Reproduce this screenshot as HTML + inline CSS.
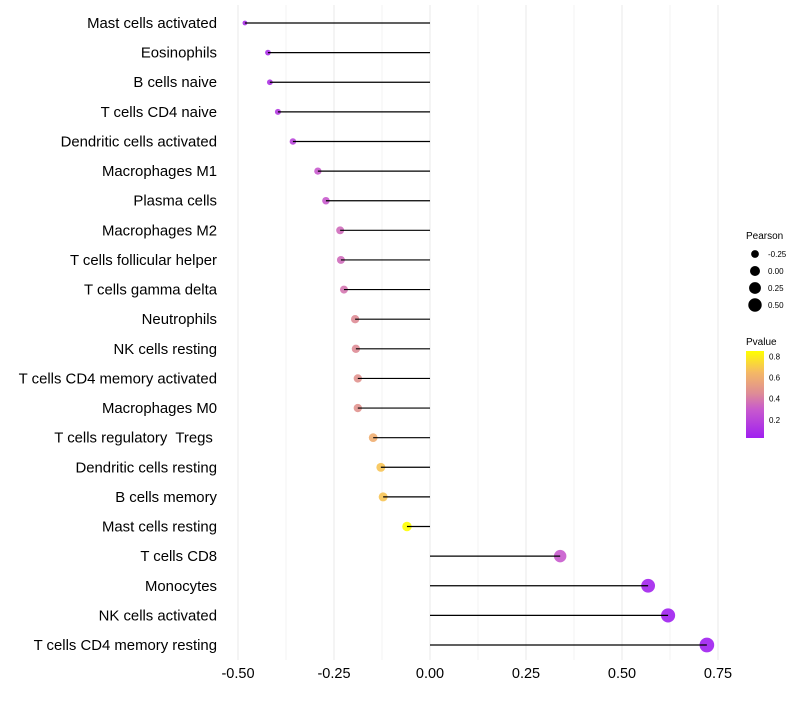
<!DOCTYPE html>
<html><head><meta charset="utf-8"><style>
body{margin:0;background:#fff;font-family:"Liberation Sans",sans-serif}
</style></head><body>
<svg id="c" width="800" height="700" xmlns="http://www.w3.org/2000/svg"></svg>
<script>
const categories=["Mast cells activated","Eosinophils","B cells naive","T cells CD4 naive","Dendritic cells activated","Macrophages M1","Plasma cells","Macrophages M2","T cells follicular helper","T cells gamma delta","Neutrophils","NK cells resting","T cells CD4 memory activated","Macrophages M0","T cells regulatory  Tregs ","Dendritic cells resting","B cells memory","Mast cells resting","T cells CD8","Monocytes","NK cells activated","T cells CD4 memory resting"];
const pearson=[-0.482,-0.422,-0.417,-0.396,-0.357,-0.292,-0.271,-0.234,-0.232,-0.224,-0.195,-0.193,-0.188,-0.188,-0.148,-0.128,-0.122,-0.06,0.339,0.568,0.62,0.721];
const pvalue=[0.1,0.1,0.12,0.15,0.2,0.3,0.3,0.35,0.35,0.38,0.45,0.45,0.48,0.48,0.6,0.68,0.68,0.85,0.3,0.05,0.03,0.03];
const xTicks=[-0.5,-0.25,0,0.25,0.5,0.75];
const xTickLabels=["-0.50","-0.25","0.00","0.25","0.50","0.75"];
const sizeLegend=[-0.25,0,0.25,0.5];
const pLegend=[0.2,0.4,0.6,0.8];
const NS="http://www.w3.org/2000/svg",svg=document.getElementById('c');
function el(t,a,p){const e=document.createElementNS(NS,t);for(const k in a)e.setAttribute(k,a[k]);(p||svg).appendChild(e);return e;}
const xs=v=>430+v*384;
const ys=i=>23+i*(622/21);
const rs=v=>Math.sqrt(Math.max(4,25+40*v));
const stops=[[0.03,[160,32,240]],[0.3,[200,90,205]],[0.45,[222,140,150]],[0.65,[245,185,100]],[0.85,[255,255,0]]];
function col(p){p=Math.max(0.03,Math.min(0.85,p));for(let i=0;i<stops.length-1;i++){const[a,ca]=stops[i],[b,cb]=stops[i+1];if(p<=b){const t=(p-a)/(b-a);return 'rgb('+ca.map((c,j)=>Math.round(c+(cb[j]-c)*t)).join(',')+')';}}return 'rgb(255,255,0)';}
for(let v=-0.5;v<=0.751;v+=0.125){const g=el('line',{x1:xs(v),x2:xs(v),y1:5,y2:660,stroke:'#ebebeb','stroke-width':Math.abs(v*4-Math.round(v*4))<1e-6?1.1:0.6});

}
xTicks.forEach((v,i)=>{const t=el('text',{x:xs(v),y:678,'text-anchor':'middle','font-size':14.5,fill:'#000'});t.textContent=xTickLabels[i];

});
categories.forEach((c,i)=>{const y=ys(i);
const t=el('text',{x:217,y:y+5,'text-anchor':'end','font-size':14.9,fill:'#000','xml:space':'preserve'});t.style.whiteSpace='pre';t.textContent=c;


const pt=el('circle',{cx:xs(pearson[i]),cy:y,r:rs(pearson[i]),fill:col(pvalue[i]),'fill-opacity':0.9});


const ln=el('line',{x1:xs(0),x2:xs(pearson[i]),y1:y,y2:y,stroke:'#000','stroke-width':1.2});

});
const lt=el('text',{x:746,y:239,'font-size':10,fill:'#000'});lt.textContent='Pearson';


sizeLegend.forEach((v,i)=>{const y=254+i*17;
const c=el('circle',{cx:755,cy:y,r:rs(v),fill:'#000'});


const t=el('text',{x:768,y:y+3,'font-size':8,fill:'#000'});t.textContent=v.toFixed(2);

});
const pt2=el('text',{x:746,y:345,'font-size':10,fill:'#000'});pt2.textContent='Pvalue';


const defs=el('defs',{});const lg=el('linearGradient',{id:'g',x1:0,y1:1,x2:0,y2:0},defs);
stops.forEach(s=>el('stop',{offset:((s[0]-0.03)/0.82),'stop-color':'rgb('+s[1].join(',')+')'},lg));
const bar=el('rect',{x:746,y:351,width:18,height:87,fill:'url(#g)'});


const py=p=>438-(p-0.03)/0.82*87;
pLegend.forEach(p=>{const t=el('text',{x:769,y:py(p)+3,'font-size':8,fill:'#000'});t.textContent=p.toFixed(1);

});
</script>
</body></html>
